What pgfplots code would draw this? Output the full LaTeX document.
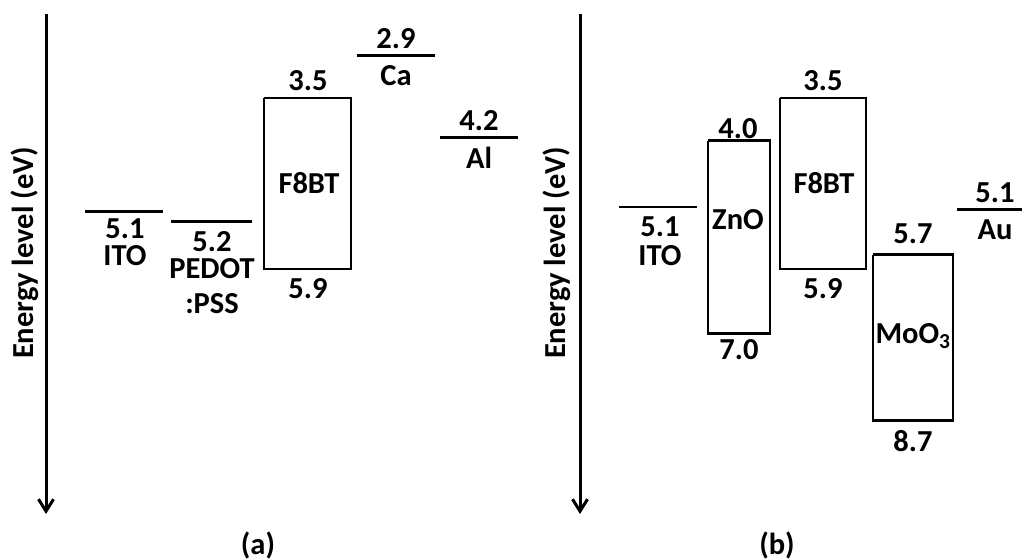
\documentclass[border=0pt]{standalone}
\usepackage{pgfplots}
\pgfplotsset{compat=1.18}
\usepackage{fontspec}
\setmainfont{Carlito}
\usetikzlibrary{arrows.meta}
\tikzset{lbl/.style={font=\fontsize{30.5}{34}\selectfont\bfseries, inner sep=0pt, anchor=center}}
\begin{document}
\begin{tikzpicture}
\begin{axis}[scale only axis, width=1022pt, height=560pt,
  xmin=0, xmax=1022, ymin=2.125, ymax=9.985, y dir=reverse,
  axis lines=none, clip=false]
% axes arrows
\addplot[black, line width=3pt, -{Straight Barb[length=12pt,width=15pt,line width=3pt]}] coordinates {(46,2.32) (46,9.34)};
\addplot[black, line width=3pt, -{Straight Barb[length=12pt,width=15pt,line width=3pt]}] coordinates {(580,2.32) (580,9.34)};
% panel (a)
\addplot[black, line width=2.8pt] coordinates {(85,5.09) (163,5.09)};     % ITO
\addplot[black, line width=2.8pt] coordinates {(171,5.23) (252,5.23)};    % PEDOT:PSS
\addplot[black, line width=2.8pt, line join=miter] coordinates {(264,3.50) (351,3.50) (351,5.90) (264,5.90) (264,3.50)}; % F8BT
\addplot[black, line width=2.8pt] coordinates {(357,2.90) (435,2.90)};    % Ca
\addplot[black, line width=2.8pt] coordinates {(440,4.06) (518,4.06)};    % Al
% panel (b)
\addplot[black, line width=2.8pt] coordinates {(619,5.03) (697,5.03)};    % ITO
\addplot[black, line width=2.8pt, line join=miter] coordinates {(708,4.10) (770,4.10) (770,6.81) (708,6.81) (708,4.10)}; % ZnO
\addplot[black, line width=2.8pt, line join=miter] coordinates {(780,3.50) (866,3.50) (866,5.90) (780,5.90) (780,3.50)}; % F8BT
\addplot[black, line width=2.8pt, line join=miter] coordinates {(873,5.70) (953,5.70) (953,8.03) (873,8.03) (873,5.70)}; % MoO3
\addplot[black, line width=2.8pt] coordinates {(957,5.07) (1022,5.07)};   % Au
% labels (a)
\node[lbl, rotate=90] at (axis cs:25,5.676) {Energy level (eV)};
\node[lbl] at (axis cs:125,5.339) {5.1};
\node[lbl] at (axis cs:125,5.718) {ITO};
\node[lbl] at (axis cs:212,5.521) {5.2};
\node[lbl] at (axis cs:212,5.90) {PEDOT};
\node[lbl] at (axis cs:212,6.392) {:PSS};
\node[lbl] at (axis cs:308,3.262) {3.5};
\node[lbl] at (axis cs:309,4.693) {F8BT};
\node[lbl] at (axis cs:308,6.181) {5.9};
\node[lbl] at (axis cs:396,2.672) {2.9};
\node[lbl] at (axis cs:396,3.192) {Ca};
\node[lbl] at (axis cs:479,3.823) {4.2};
\node[lbl] at (axis cs:479,4.342) {Al};
\node[lbl] at (axis cs:258,9.78) {(a)};
% labels (b)
\node[lbl, rotate=90] at (axis cs:557,5.676) {Energy level (eV)};
\node[lbl] at (axis cs:660,5.311) {5.1};
\node[lbl] at (axis cs:660,5.718) {ITO};
\node[lbl] at (axis cs:738,3.936) {4.0};
\node[lbl] at (axis cs:738,5.213) {ZnO};
\node[lbl] at (axis cs:739,7.038) {7.0};
\node[lbl] at (axis cs:823,3.262) {3.5};
\node[lbl] at (axis cs:824,4.693) {F8BT};
\node[lbl] at (axis cs:823,6.181) {5.9};
\node[lbl] at (axis cs:913,5.409) {5.7};
\node[lbl] at (axis cs:913,6.841) {MoO\textsubscript{3}};
\node[lbl] at (axis cs:913,8.315) {8.7};
\node[lbl] at (axis cs:995,4.834) {5.1};
\node[lbl] at (axis cs:995,5.353) {Au};
\node[lbl] at (axis cs:777,9.78) {(b)};
\end{axis}
\pgfresetboundingbox
\path (current axis.south west) rectangle (current axis.north east);
\end{tikzpicture}
\end{document}
